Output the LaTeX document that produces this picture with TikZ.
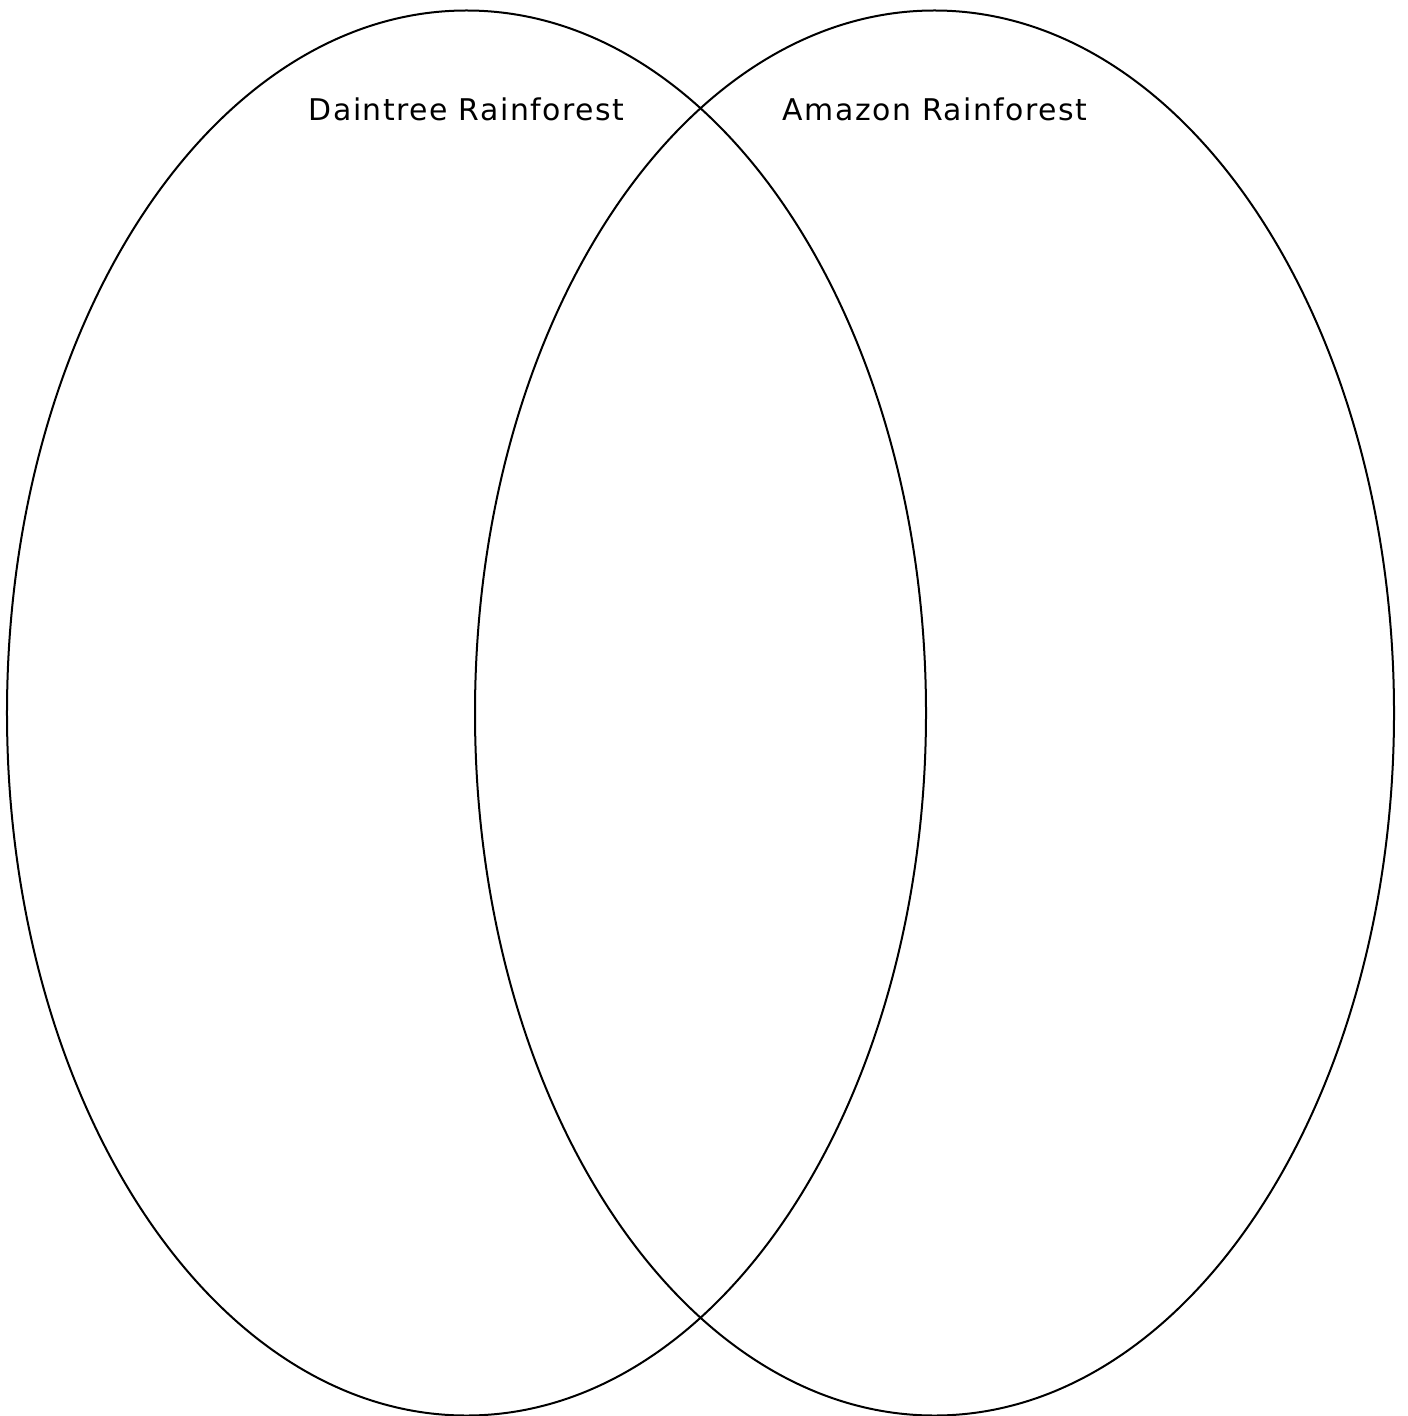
\documentclass[tikz,border=0pt]{standalone}
\usepackage{fontspec}
\setmainfont[LetterSpace=5]{DejaVu Sans}
\begin{document}
\begin{tikzpicture}[x=1bp,y=-1bp,
  setring/.style={draw=black,line width=2bp},
  settitle/.style={anchor=base,inner sep=0pt,font=\fontsize{30}{36}\selectfont}]
\useasboundingbox (0,0) rectangle (1408,1416);
\draw[setring] (466.5,713) ellipse [x radius=459.5bp, y radius=702.5bp];
\draw[setring] (934.5,713) ellipse [x radius=459.5bp, y radius=702.5bp];
\node[settitle] (dain) at (466.5,120.5) {Daintree Rainforest};
\node[settitle] (amaz) at (935,120.5) {Amazon Rainforest};
\end{tikzpicture}
\end{document}
